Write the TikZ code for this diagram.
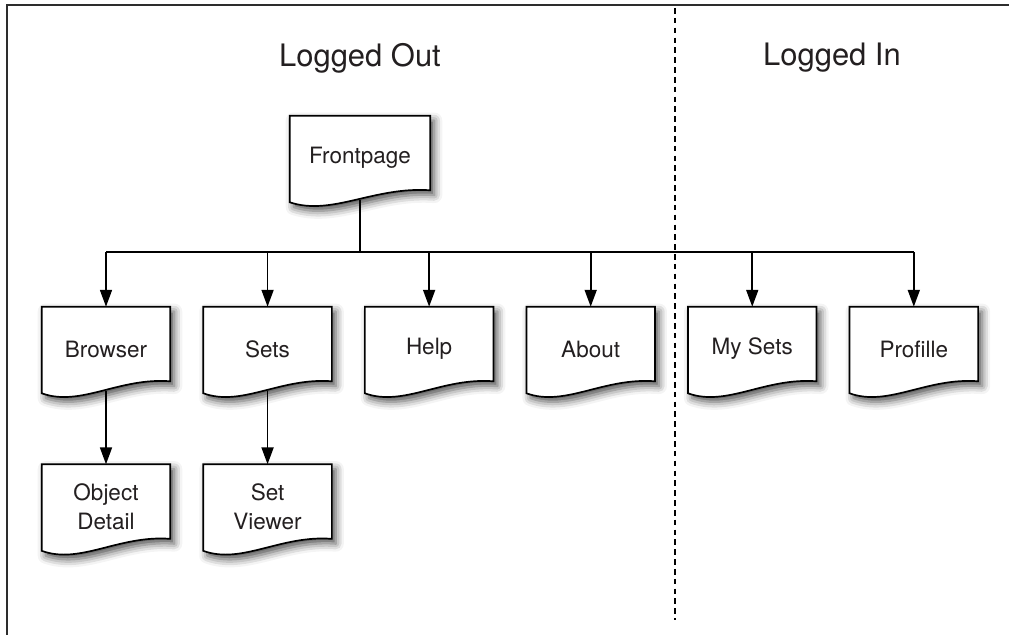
\documentclass[tikz,border=0pt]{standalone}
\usepackage{fontspec}
\setmainfont{TeX Gyre Heros}
\usepackage{tikz}
\usetikzlibrary{arrows.meta,positioning,calc,backgrounds,shadows.blur}
\usepackage{xcolor}
\definecolor{inkgray}{RGB}{35,31,32}
\definecolor{framegray}{RGB}{45,45,45}
\tikzset{
  docbox/.style={rectangle, minimum width=3.2cm, minimum height=2.1cm, inner sep=0pt,
                 align=center, font=\fontsize{16}{21}\selectfont, text=inkgray},
  docshape/.style={draw=black, line width=1.2pt, fill=white,
                   blur shadow={shadow xshift=0.1cm, shadow yshift=-0.12cm,
                                shadow blur radius=0.2cm, shadow opacity=70}},
  arrow/.style={-{Triangle[length=12pt, width=8.5pt]}, line width=1.3pt, black},
  link/.style={line width=1.3pt, black},
  frame/.style={line width=1.5pt, framegray},
  divider/.style={line width=1.1pt, black, dash pattern=on 4pt off 3pt},
  title/.style={font=\fontsize{22}{26}\selectfont, text=inkgray},
}
% page with a curled bottom edge, drawn round a node
\newcommand{\docshape}[1]{%
  \path[docshape] (#1.north west) -- (#1.north east) -- ($(#1.south east)+(0,0.25)$)
    .. controls ($(#1.south west)!0.6!(#1.south east)+(0,0.35)$)
       and ($(#1.south west)!0.3!(#1.south east)+(0,-0.4)$)
    .. ($(#1.south west)+(0,-0.05)$) -- cycle;}

\begin{document}
\begin{tikzpicture}
\useasboundingbox (0,0) rectangle (25.225,-15.875);
\draw[frame] (25.225,-0.13) -- (0.175,-0.13) -- (0.175,-15.875);
\draw[divider] (16.875,-0.2) -- (16.875,-15.5);

\node[title] (loggedout) at (9.0,-1.45) {Logged Out};
\node[title] (loggedin) at (20.8,-1.45) {Logged In};

\node[docbox, minimum width=3.5cm] (front) at (9.0,-3.95) {Frontpage};
\node[docbox] (browser) at (2.65,-8.725) {Browser};
\node[docbox, right=0.825cm of browser] (sets) {Sets};
\node[docbox, right=0.825cm of sets] (help) {Help};
\node[docbox, right=0.825cm of help] (about) {About};
\node[docbox, right=0.825cm of about] (mysets) {My Sets};
\node[docbox, right=0.825cm of mysets] (profile) {Profille};
\node[docbox, below=1.825cm of browser] (objdetail) {Object\\Detail};
\node[docbox, below=1.825cm of sets] (setviewer) {Set\\Viewer};

\begin{scope}[on background layer]
\foreach \n in {front,browser,sets,help,about,mysets,profile,objdetail,setviewer}
  \docshape{\n};
\end{scope}

\coordinate (split) at ($(front.south)+(0,-1.3)$);
\draw[link] (front.south) -- (split);
\draw[link] (split -| browser) -- (split -| profile);
\foreach \n in {browser,sets,help,about,mysets,profile}
  \draw[arrow] (split -| \n) -- (\n.north);
\foreach \a/\b in {browser/objdetail, sets/setviewer}
  \draw[arrow] (\a.south) -- (\b.north);
\end{tikzpicture}
\end{document}
